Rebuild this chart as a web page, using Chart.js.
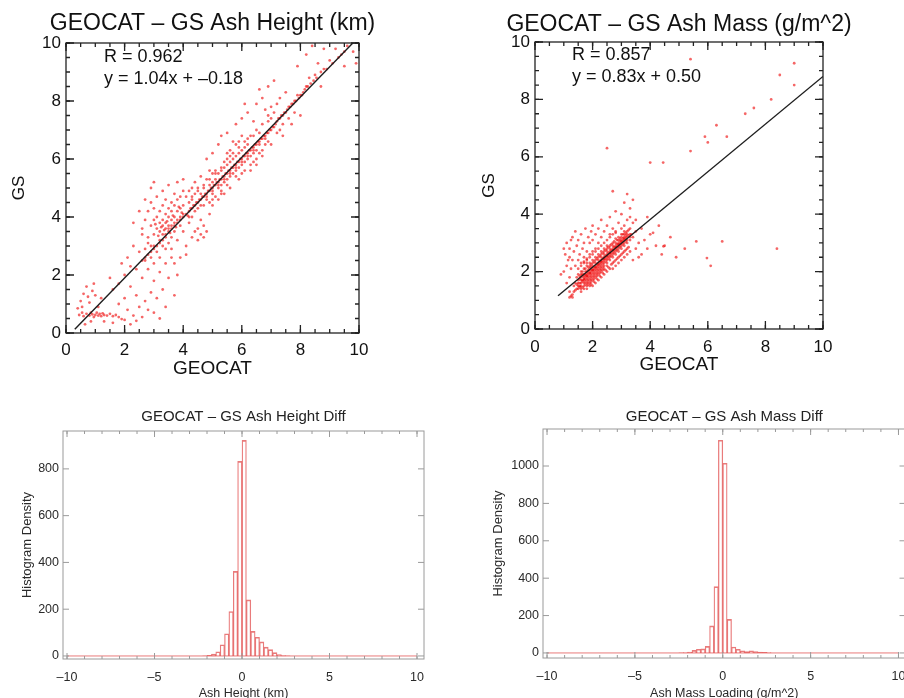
<!DOCTYPE html>
<html lang="en">
<head>
<meta charset="UTF-8">
<title>GEOCAT – GS ash comparison</title>
<script src="https://cdn.jsdelivr.net/npm/chart.js"></script>
<style>
  html, body { margin: 0; padding: 0; background: #fff; }
  body { width: 904px; height: 698px; overflow: hidden; position: relative; }
  .panel { position: absolute; }
</style>
</head>
<body>
<div class="panel" style="left:0;top:0;width:420px;height:385px"><canvas id="heightScatter"></canvas></div>
<div class="panel" style="left:460px;top:0;width:444px;height:385px"><canvas id="massScatter"></canvas></div>
<div class="panel" style="left:0;top:400px;width:450px;height:305px"><canvas id="heightHist"></canvas></div>
<div class="panel" style="left:470px;top:400px;width:450px;height:305px"><canvas id="massHist"></canvas></div>

<script>
// GEOCAT (x) vs GS (y) ash height, km
const heightPts = [
  [0.45,0.62],[0.55,0.7],[0.6,0.58],[0.7,0.66],[0.8,0.6],[0.85,0.7],[0.9,0.64],[0.95,0.55],[0.5,1.1],[0.6,1.35],
  [0.7,1.6],[0.75,1.25],[0.55,0.9],[0.4,0.85],[0.65,0.3],[0.8,1.05],[0.9,1.45],[0.85,0.4],
  [1.0,0.62],[1.05,0.7],[1.1,0.6],[1.15,0.66],[1.2,0.58],[1.25,0.68],[1.3,0.62],[1.4,0.6],[1.5,0.66],[1.6,0.58],
  [1.7,0.62],[1.8,0.55],[1.9,0.48],[2.0,0.45],[1.3,0.4],[1.6,0.35],[2.2,0.3],[2.4,0.42],[1.1,0.9],[1.2,1.2],[0.95,1.7],[1.0,1.3],
  [2.1,0.8],[2.3,0.6],[2.5,0.9],[2.6,0.55],[2.7,1.1],[2.8,0.8],[2.9,1.4],[3.0,0.7],[3.0,1.8],[3.1,1.2],
  [3.2,2.1],[3.3,1.5],[3.4,0.9],[3.4,2.4],[3.5,1.9],[2.4,1.3],[2.2,1.6],[2.6,1.9],[2.8,2.2],[3.6,2.6],
  [3.7,1.3],[3.8,2.0],[2.0,1.2],[1.8,1.0],[3.2,0.5],[2.9,2.6],
  [1.6,1.5],[1.8,1.7],[2.0,2.0],[2.2,2.3],[2.4,2.2],[2.5,2.8],[1.9,2.4],[2.3,3.0],[2.6,3.4],[2.1,2.6],[2.7,2.5],[2.8,3.1],[1.5,1.9],
  [2.6,3.6],[2.7,3.9],[2.8,3.3],[2.8,4.2],[2.9,3.7],[2.9,4.5],[3.0,3.0],[3.0,3.4],[3.0,3.9],[3.0,4.3],
  [3.1,3.6],[3.1,4.0],[3.1,4.7],[3.2,3.2],[3.2,3.5],[3.2,3.8],[3.2,4.2],[3.3,3.4],[3.3,3.7],[3.3,3.9],
  [3.3,4.4],[3.3,4.9],[3.4,3.3],[3.4,3.6],[3.4,3.8],[3.4,4.1],[3.4,4.6],[3.5,3.5],[3.5,3.7],[3.5,4.0],
  [3.5,4.3],[3.5,5.1],[3.6,3.6],[3.6,3.9],[3.6,4.2],[3.6,4.5],[3.7,3.8],[3.7,4.0],[3.7,4.4],[3.7,4.8],
  [3.8,3.9],[3.8,4.2],[3.8,4.6],[3.8,5.2],[3.9,4.0],[3.9,4.3],[3.9,4.7],[4.0,4.1],[4.0,4.4],[4.0,4.9],
  [4.0,5.3],[3.1,2.8],[3.3,3.0],[3.5,3.1],[3.6,3.3],[3.7,3.5],[3.9,3.7],[3.2,2.6],[3.4,2.9],[2.7,2.9],[2.9,3.0],[3.0,2.4],
  [2.5,4.2],[2.3,3.8],[2.7,4.6],[2.9,5.0],[3.0,5.2],
  [3.4,3.4],[3.5,3.6],[3.6,3.7],[3.7,3.7],[3.8,3.8],[3.9,3.9],[4.0,4.0],[3.3,3.2],[3.2,3.1],[3.1,3.0],
  [3.0,2.9],[2.9,2.8],[2.8,2.7],[2.7,2.6],[2.6,2.5],[3.35,3.55],[3.45,3.85],[3.55,3.45],[3.65,4.05],[3.75,3.65],
  [3.85,4.35],[3.95,4.15],[3.25,3.65],[3.15,3.35],[3.05,3.75],
  [3.6,2.9],[3.8,3.2],[3.9,2.6],[4.0,3.5],[4.1,3.0],[4.2,3.8],[4.3,3.3],[4.4,3.5],[4.5,3.2],[4.5,3.6],
  [4.6,3.4],[4.7,3.7],[4.7,3.3],[4.8,3.5],[4.6,3.9],[4.3,4.0],[4.9,4.1],[4.1,2.7],[3.7,2.4],
  [4.1,4.1],[4.2,4.2],[4.2,4.5],[4.3,4.3],[4.3,4.6],[4.4,4.4],[4.4,4.8],[4.5,4.5],[4.5,4.3],[4.5,5.0],
  [4.6,4.6],[4.6,4.8],[4.7,4.7],[4.7,5.1],[4.8,4.8],[4.8,4.6],[4.8,5.3],[4.9,4.9],[4.9,5.1],[5.0,5.0],
  [5.0,5.2],[5.0,4.8],[5.0,5.5],[5.1,5.1],[5.1,5.3],[5.2,5.2],[5.2,5.0],[5.2,5.5],[5.3,5.3],[5.3,5.1],
  [5.3,5.6],[5.4,5.4],[5.4,5.2],[5.4,5.7],[5.5,5.5],[5.5,5.3],[5.5,5.8],[4.2,4.9],[4.4,5.2],[4.6,5.4],
  [4.9,5.6],[4.1,4.7],[4.3,5.0],[5.1,4.7],[5.3,4.9],[5.5,5.1],[4.7,4.4],[4.9,4.5],
  [5.0,4.4],[5.2,4.6],[5.4,4.8],[5.6,5.0],
  [4.15,4.05],[4.25,4.3],[4.35,4.4],[4.45,4.5],[4.55,4.6],[4.65,4.7],[4.75,4.8],[4.85,4.9],[4.95,5.0],[5.05,5.1],
  [5.15,5.2],[5.25,5.3],[5.35,5.4],[5.45,5.5],[5.55,5.6],[5.65,5.7],[5.75,5.8],[5.85,5.9],[5.95,6.0],[6.05,6.1],
  [6.15,6.2],[6.25,6.3],[6.35,6.4],[6.45,6.5],[6.55,6.6],[6.65,6.7],[6.75,6.8],[6.85,6.9],[6.95,7.0],[7.05,7.1],
  [4.2,4.0],[4.4,4.2],[4.6,4.4],[4.8,4.7],[5.0,4.9],[5.2,5.1],[5.4,5.3],[5.6,5.5],[5.8,5.7],[6.0,5.9],
  [6.2,6.1],[6.4,6.3],[6.6,6.5],[6.8,6.7],
  [4.3,4.7],[4.5,4.9],[4.7,5.0],[4.9,5.3],[5.1,5.5],[5.3,5.7],[5.5,6.0],[5.7,6.2],[5.9,6.4],[6.1,6.6],
  [6.3,6.8],[6.5,7.0],[6.7,7.2],[6.9,7.3],
  [5.1,5.6],[5.3,4.8],[5.6,6.1],[5.8,5.4],[6.2,6.5],[6.4,5.9],[5.9,6.6],[6.6,6.2],[5.4,5.9],[5.0,4.6],
  [5.6,5.6],[5.6,5.4],[5.6,5.9],[5.7,5.7],[5.7,5.5],[5.7,6.0],[5.8,5.8],[5.8,5.6],[5.8,6.1],[5.9,5.9],
  [5.9,5.7],[5.9,6.2],[6.0,6.0],[6.0,5.8],[6.0,6.3],[6.1,6.1],[6.1,5.9],[6.1,6.4],[6.2,6.2],[6.2,6.0],
  [6.3,6.3],[6.3,6.1],[6.4,6.4],[6.4,6.2],[6.5,6.5],[6.5,6.3],[6.6,6.6],[6.7,6.7],[6.8,6.8],[6.9,6.9],
  [5.6,6.3],[5.8,6.5],[6.0,6.8],[6.2,6.7],[5.9,5.3],[6.1,5.6],[6.3,5.8],[6.5,6.0],[6.6,6.9],[6.8,6.5],
  [5.7,6.6],[6.4,6.8],[5.5,6.2],[6.0,5.5],[6.7,6.3],[6.9,6.6],
  [5.0,6.2],[5.2,6.5],[5.5,6.9],[5.8,7.2],[6.0,7.4],[6.2,7.6],[6.4,7.3],[6.5,7.9],[6.7,8.1],[6.8,7.7],
  [4.8,6.0],[5.3,6.8],[6.1,7.9],[6.6,8.4],[6.9,8.5],[7.1,8.7],
  [6.3,5.6],[6.7,6.1],[7.0,6.5],[7.4,6.8],[7.7,7.2],[8.0,7.5],[6.5,5.8],
  [7.0,7.0],[7.1,7.1],[7.2,7.3],[7.3,7.4],[7.4,7.5],[7.5,7.6],[7.6,7.8],[7.7,7.9],[7.8,8.0],[7.1,7.6],
  [7.2,7.9],[7.3,8.1],[7.4,7.2],[7.5,8.3],[7.0,7.4],[7.2,6.9],[7.6,7.4],[7.8,7.6],[7.9,8.2],[7.3,7.0],[7.0,7.8],[6.9,7.5],
  [7.15,7.2],[7.25,7.4],[7.35,7.5],[7.45,7.6],[7.55,7.7],[7.65,7.8],[7.75,7.9],[7.85,8.0],[7.95,8.1],[8.05,8.2],
  [8.15,8.4],[8.25,8.5],[8.35,8.6],[8.45,8.7],[8.55,8.8],[8.7,9.0],[8.9,9.1],[9.1,9.3],[9.3,9.5],[9.5,9.7],
  [8.0,8.2],[8.1,8.3],[8.2,8.5],[8.3,8.8],[8.5,8.9],[8.6,9.3],[8.8,9.1],[9.0,9.4],[9.2,9.8],[9.4,9.6],
  [9.6,9.9],[9.8,9.7],[8.2,9.6],[8.4,9.9],[7.9,9.2],[8.8,9.8],[9.5,9.2],[8.7,8.5],[9.9,9.3],
  [10.1,10.3],[10.3,10.6],[10.5,10.9],[10.7,11.1],[10.2,10.8]
];

// GEOCAT (x) vs GS (y) ash mass loading, g/m^2
const massPts = [
  [1.4,1.6],[1.45,1.8],[1.5,1.5],[1.5,1.7],[1.5,1.9],[1.55,1.6],[1.6,1.5],[1.6,1.7],[1.6,1.8],[1.6,2.0],
  [1.65,1.9],[1.7,1.6],[1.7,1.7],[1.7,1.8],[1.7,1.9],[1.7,2.1],[1.75,1.75],[1.75,2.0],[1.8,1.6],[1.8,1.7],
  [1.8,1.8],[1.8,1.9],[1.8,2.0],[1.8,2.2],[1.85,1.85],[1.85,2.05],[1.9,1.7],[1.9,1.8],[1.9,1.9],[1.9,2.0],
  [1.9,2.1],[1.9,2.3],[1.95,1.95],[1.95,2.15],[2.0,1.8],[2.0,1.9],[2.0,2.0],[2.0,2.1],[2.0,2.2],[2.0,2.4],
  [2.05,2.05],[2.05,1.85],[2.1,1.9],[2.1,2.0],[2.1,2.1],[2.1,2.2],[2.1,2.3],[2.1,2.5],[2.15,2.15],[2.15,1.95],
  [2.2,2.0],[2.2,2.1],[2.2,2.2],[2.2,2.3],[2.2,2.4],[2.2,2.6],[2.25,2.25],[2.25,2.05],[2.3,2.1],[2.3,2.2],
  [2.3,2.3],[2.3,2.4],[2.3,2.5],[2.3,2.7],[2.35,2.35],[2.35,2.15],[2.4,2.2],[2.4,2.3],[2.4,2.4],[2.4,2.5],
  [2.4,2.6],[2.4,2.8],[2.45,2.45],[2.5,2.3],[2.5,2.4],[2.5,2.5],[2.5,2.6],[2.5,2.7],[2.5,2.9],[2.55,2.55],
  [2.6,2.4],[2.6,2.5],[2.6,2.6],[2.6,2.7],[2.6,2.8],[2.65,2.65],[2.7,2.5],[2.7,2.6],[2.7,2.7],[2.7,2.8],
  [2.7,2.9],[2.75,2.75],[2.8,2.6],[2.8,2.7],[2.8,2.8],[2.8,2.9],[2.8,3.0],[2.85,2.85],[2.9,2.7],[2.9,2.8],
  [2.9,2.9],[2.9,3.0],[2.9,3.1],[2.95,2.95],[3.0,2.8],[3.0,2.9],[3.0,3.0],[3.0,3.1],[3.0,3.2],[3.05,3.05],
  [3.1,2.9],[3.1,3.0],[3.1,3.1],[3.1,3.2],[3.1,3.3],[3.15,3.15],[3.2,3.0],[3.2,3.1],[3.2,3.2],[3.2,3.3],
  [3.2,3.4],[3.25,3.25],[3.3,3.1],[3.3,3.3],[3.3,3.5],
  [1.55,1.75],[1.65,1.65],[1.65,1.85],[1.75,1.65],[1.75,1.85],[1.85,1.75],[1.85,1.95],[1.95,1.75],[1.95,1.85],[1.95,2.05],
  [2.05,1.95],[2.05,2.15],[2.15,2.05],[2.15,2.25],[2.25,2.15],[2.25,2.35],[2.35,2.25],[2.35,2.45],[2.45,2.35],[2.45,2.55],
  [2.55,2.45],[2.55,2.65],[2.65,2.55],[2.65,2.75],[2.75,2.65],[2.75,2.85],[2.85,2.75],[2.85,2.95],[2.95,2.85],[2.95,3.05],
  [3.05,2.95],[3.05,3.15],[3.15,3.05],[3.15,3.25],[1.6,1.6],[1.7,1.75],[1.8,1.85],[1.9,1.95],[2.0,2.05],[2.1,2.15],
  [2.2,2.25],[2.3,2.35],[2.4,2.45],[2.5,2.55],[2.6,2.65],[2.7,2.75],[2.8,2.85],[2.9,2.95],[3.0,3.05],[3.1,3.15],
  [1.75,1.55],[1.85,1.65],[1.95,1.55],[2.05,1.65],[2.15,1.75],[2.25,1.85],[2.35,1.95],[2.45,2.05],[1.65,1.45],[1.55,1.45],
  [1.7,2.3],[1.8,2.45],[1.9,2.5],[2.0,2.6],[2.1,2.7],[2.2,2.8],[2.3,2.9],[2.4,3.0],[2.5,3.1],[2.6,3.2],
  [2.7,3.3],[2.8,3.35],[2.55,2.15],[2.65,2.25],[2.75,2.35],[2.85,2.45],[2.95,2.55],[3.05,2.65],[3.15,2.75],[3.25,2.85],
  [1.5,2.1],[1.6,2.2],[1.7,2.35],[1.8,2.3],[1.9,2.2],[2.0,2.3],[2.1,2.4],[2.2,2.5],[2.3,2.6],[2.4,2.7],
  [2.5,2.8],[2.6,2.9],[2.7,3.0],[2.8,3.15],[2.9,3.2],[3.0,3.3],[3.1,3.4],[1.6,1.3],[1.7,1.4],[1.8,1.4],
  [1.9,1.5],[2.0,1.5],[2.1,1.6],[2.2,1.7],[2.3,1.8],[2.4,1.9],[2.5,2.0],[2.6,2.1],[2.7,2.3],[2.8,2.4],
  [2.9,2.5],[3.0,2.6],[3.1,2.7],[3.2,2.8],[1.45,1.55],[1.5,1.6],[1.55,1.85],[1.6,1.9],[1.65,1.7],[1.65,2.0],
  [1.75,1.9],[1.75,2.1],[1.85,2.15],[1.95,2.25],[2.05,2.35],[2.15,2.45],[2.25,2.55],[2.35,2.65],[2.45,2.75],[2.55,2.85],
  [2.65,2.95],[2.75,3.05],[2.85,3.1],[2.95,3.15],[3.05,3.3],[3.15,3.35],[3.25,3.45],[3.3,3.2],[3.35,3.3],
  [1.6,1.4],[1.7,1.5],[1.8,1.5],[1.9,1.6],[2.0,1.7],[2.1,1.8],[2.2,1.9],[2.3,2.0],[2.4,2.1],[2.5,2.2],
  [1.85,1.55],[1.95,1.65],[2.05,1.75],[2.15,1.85],[2.25,1.95],[2.35,2.05],
  [1.2,1.1],[1.25,1.15],[1.3,1.2],[1.35,1.3],[1.4,1.35],[1.45,1.4],[1.5,1.4],[1.55,1.5],[1.2,1.3],[1.3,1.1],[1.35,1.5],
  [1.0,2.0],[1.05,2.6],[1.1,2.2],[1.1,3.0],[1.2,2.5],[1.2,2.8],[1.25,2.1],[1.3,3.2],[1.3,2.4],[1.35,2.7],
  [1.4,2.2],[1.4,3.4],[1.45,2.9],[1.5,2.4],[1.5,3.1],[1.55,2.6],[1.6,2.3],[1.6,3.3],[1.65,2.8],[1.7,2.5],
  [1.7,3.0],[1.75,3.5],[1.8,2.4],[1.8,2.7],[1.85,3.2],[1.9,2.6],[1.9,3.0],[1.95,3.4],[2.0,2.7],[2.0,3.1],
  [2.1,2.8],[2.1,3.3],[2.2,3.0],[2.2,3.5],[2.3,3.2],[2.4,3.4],[2.5,3.6],[2.3,3.8],[2.6,3.9],[2.0,3.6],
  [1.2,1.8],[1.1,1.6],[0.9,1.9],[1.0,2.8],[1.15,2.4],[1.25,3.1],
  [2.6,3.3],[2.7,3.5],[2.8,3.4],[2.9,3.7],[3.0,3.5],[3.0,4.0],[3.1,3.6],[3.1,4.4],[3.2,3.8],[3.2,4.7],
  [3.3,3.9],[3.3,4.2],[3.4,3.7],[2.8,4.1],[2.7,4.8],[2.5,6.3],[3.4,4.5],
  [3.4,3.2],[3.5,2.8],[3.5,3.4],[3.6,3.0],[3.7,2.6],[3.7,3.5],[3.8,3.1],[3.9,2.8],[4.0,3.3],[4.1,3.35],
  [4.2,2.9],[4.3,3.6],[4.5,2.9],[4.7,3.2],[4.9,2.5],[3.6,2.5],[3.3,2.7],[3.4,2.4],[3.2,2.6],[3.1,2.5],
  [3.0,2.4],[2.9,2.3],[2.8,2.2],[2.7,2.1],[3.5,3.8],[3.9,3.9],[4.4,2.6],
  [4.0,5.8],[4.45,5.8],[5.4,6.2],[5.9,6.7],[6.3,7.1],[6.66,6.7],[7.6,7.7],[8.2,8.0],[8.5,8.85],[9.0,9.26],
  [9.0,8.5],[8.4,2.8],[6.5,3.05],[5.97,2.47],[5.6,3.05],[5.2,2.8],[6.1,2.2],[4.46,2.88],[5.4,9.4],[7.3,7.5],
  [6.0,6.5],[10.7,10.2]
];

// regression lines, end points
const heightFit = [[0.3, 0.13], [9.79, 10]];
const massFit = [[0.8, 1.16], [10, 8.8]];
const heightStats = ['R = 0.962', 'y = 1.04x + –0.18'];
const massStats = ['R = 0.857', 'y = 0.83x + 0.50'];

// difference histograms, 0.25 wide bins (centres)
const binCenters = [-2.375,-2.125,-1.875,-1.625,-1.375,-1.125,-0.875,-0.625,-0.375,-0.125,
                    0.125,0.375,0.625,0.875,1.125,1.375,1.625,1.875,2.125,2.375,2.625];
const heightDiffCounts = [0,1,3,8,18,48,95,190,362,832,922,240,105,80,60,38,27,14,6,2,1];
const massDiffCounts = [1,2,5,14,20,22,35,145,355,1138,1015,180,32,20,12,8,12,7,4,3,2];
const histSpan = [-10, 10];
const histXTicks = [-10, -5, 0, 5, 10];
const heightHistYTicks = [0, 200, 400, 600, 800];
const massHistYTicks = [0, 200, 400, 600, 800, 1000];

const FONT = '"Liberation Sans", Arial, sans-serif';
Chart.defaults.font.family = FONT;
Chart.defaults.animation = false;

// frame with inward ticks, title and fit notes (IDL look)
const panelDeco = {
  id: 'panelDeco',
  afterDraw(chart, args, o) {
    const { ctx, chartArea: a, scales: { x, y } } = chart;
    ctx.save();
    ctx.strokeStyle = o.frameColor;
    ctx.lineWidth = o.frameWidth;
    ctx.strokeRect(a.left, a.top, a.right - a.left, a.bottom - a.top);
    const run = (scale, step, len, horiz) => {
      if (!step) return;
      for (let v = Math.ceil(scale.min / step - 1e-9) * step; v <= scale.max + 1e-9; v += step) {
        const p = scale.getPixelForValue(v);
        ctx.beginPath();
        if (horiz) {
          ctx.moveTo(p, a.bottom); ctx.lineTo(p, a.bottom - len);
          ctx.moveTo(p, a.top); ctx.lineTo(p, a.top + len);
        } else {
          ctx.moveTo(a.left, p); ctx.lineTo(a.left + len, p);
          ctx.moveTo(a.right, p); ctx.lineTo(a.right - len, p);
        }
        ctx.stroke();
      }
    };
    run(x, o.xMinor, o.minorLen, true);
    run(x, o.xMajor, o.majorLen, true);
    run(y, o.yMinor, o.minorLen, false);
    run(y, o.yMajor, o.majorLen, false);

    ctx.fillStyle = o.color;
    ctx.textBaseline = 'middle';
    ctx.textAlign = 'center';
    ctx.font = o.titleFont;
    ctx.fillText(o.title, (a.left + a.right) / 2, a.top - o.titleGap);
    if (o.notes) {
      ctx.textAlign = 'left';
      ctx.font = o.noteFont;
      o.notes.forEach((t, i) => ctx.fillText(t, a.left + o.noteX, a.top + o.noteY + i * o.noteDy));
    }
    ctx.restore();
  }
};

const dash = v => String(v).replace('-', '–');
const fixedTicks = vals => s => { s.ticks = vals.map(value => ({ value })); };

function makeScatter(id, pts, fit, notes, title, g) {
  new Chart(document.getElementById(id), {
    type: 'scatter',
    data: {
      datasets: [
        {
          data: fit.map(([x, y]) => ({ x, y })),
          showLine: true, borderColor: '#1e1e1e', borderWidth: 1.4,
          pointRadius: 0, order: 0
        },
        {
          data: pts.map(([x, y]) => ({ x, y })),
          pointRadius: 1.4, pointBorderWidth: 0,
          pointBackgroundColor: 'rgba(238,0,0,0.6)', clip: false, order: 1
        }
      ]
    },
    options: {
      responsive: true,
      maintainAspectRatio: false,
      layout: { padding: g.pad },
      scales: {
        x: {
          type: 'linear', min: 0, max: 10,
          afterFit: s => { s.height = g.xH; },
          grid: { display: false, drawTicks: false }, border: { display: false },
          ticks: { stepSize: 2, padding: g.xTickPad, color: '#111', font: { size: 17 } },
          title: { display: true, text: 'GEOCAT', color: '#111', font: { size: 19 }, padding: 0 }
        },
        y: {
          type: 'linear', min: 0, max: 10,
          afterFit: s => { s.width = g.yW; },
          grid: { display: false, drawTicks: false }, border: { display: false },
          ticks: { stepSize: 2, padding: 5, color: '#111', font: { size: 17 } },
          title: { display: true, text: 'GS', color: '#111', font: { size: 17 }, padding: { top: g.yTitlePad, bottom: 0 } }
        }
      },
      plugins: {
        legend: { display: false },
        tooltip: { enabled: false },
        panelDeco: {
          frameColor: '#222', frameWidth: 1.3, color: '#111',
          xMajor: 2, xMinor: 0.5, yMajor: 2, yMinor: 0.5, majorLen: 8, minorLen: 4,
          title, titleFont: '23px ' + FONT, titleGap: g.titleGap,
          notes, noteFont: '18px ' + FONT, noteX: g.noteX, noteY: g.noteY, noteDy: 22
        }
      }
    },
    plugins: [panelDeco]
  });
}

function makeHist(id, counts, yTicks, title, xLabel, g) {
  new Chart(document.getElementById(id), {
    type: 'bar',
    data: {
      datasets: [
        {
          type: 'line',
          data: histSpan.map(x => ({ x, y: 0 })),
          borderColor: 'rgba(228,90,90,0.8)', borderWidth: 1, pointRadius: 0, order: 0
        },
        {
          data: binCenters.map((x, i) => ({ x, y: counts[i] })),
          backgroundColor: 'rgba(255,255,255,0)',
          borderColor: 'rgba(228,90,90,0.8)',
          borderWidth: { top: 1, left: 0.6, right: 0.6, bottom: 0 },
          borderSkipped: false,
          barPercentage: 1, categoryPercentage: 1, order: 1
        }
      ]
    },
    options: {
      responsive: true,
      maintainAspectRatio: false,
      layout: { padding: g.pad },
      scales: {
        x: {
          type: 'linear', min: -10.23, max: 10.4, offset: false,
          afterFit: s => { s.height = g.xH; },
          afterBuildTicks: fixedTicks(histXTicks),
          grid: { display: false, drawTicks: false }, border: { display: false },
          ticks: { padding: 11, color: '#2a2a2a', font: { size: 12.5 }, callback: dash },
          title: { display: true, text: xLabel, color: '#2a2a2a', font: { size: 12.5 }, padding: 0 }
        },
        y: {
          type: 'linear', min: g.yMin, max: g.yMax,
          afterFit: s => { s.width = g.yW; },
          afterBuildTicks: fixedTicks(yTicks),
          grid: { display: false, drawTicks: false }, border: { display: false },
          ticks: { padding: 4, color: '#2a2a2a', font: { size: 12.5 }, callback: v => String(v) },
          title: { display: true, text: 'Histogram Density', color: '#2a2a2a', font: { size: 13 }, padding: { top: g.yTitlePad, bottom: 0 } }
        }
      },
      plugins: {
        legend: { display: false },
        tooltip: { enabled: false },
        panelDeco: {
          frameColor: '#9a9a9a', frameWidth: 1, color: '#222',
          xMajor: 5, xMinor: 1, yMajor: 200, yMinor: 0, majorLen: 6, minorLen: 3,
          title, titleFont: '15px ' + FONT, titleGap: g.titleGap
        }
      }
    },
    plugins: [panelDeco]
  });
}

makeScatter('heightScatter', heightPts, heightFit, heightStats, 'GEOCAT – GS Ash Height (km)',
  { pad: { top: 43, right: 61, bottom: 5, left: 0 }, yW: 66, xH: 47, xTickPad: 7, yTitlePad: 9,
    titleGap: 19, noteX: 38, noteY: 14, noteDy: 22 });

makeScatter('massScatter', massPts, massFit, massStats, 'GEOCAT – GS Ash Mass (g/m^2)',
  { pad: { top: 42, right: 81, bottom: 9, left: 0 }, yW: 75, xH: 47, xTickPad: 8, yTitlePad: 19,
    titleGap: 17, noteX: 37, noteY: 13, noteDy: 22 });

makeHist('heightHist', heightDiffCounts, heightHistYTicks, 'GEOCAT – GS Ash Height Diff', 'Ash Height (km)',
  { pad: { top: 31, right: 26, bottom: 4, left: 0 }, yW: 63, xH: 42, yTitlePad: 20,
    yMin: -13, yMax: 962, titleGap: 14 });

makeHist('massHist', massDiffCounts, massHistYTicks, 'GEOCAT – GS Ash Mass Diff', 'Ash Mass Loading (g/m^2)',
  { pad: { top: 29, right: 14.5, bottom: 4, left: 0 }, yW: 73, xH: 43, yTitlePad: 21,
    yMin: -27, yMax: 1198, titleGap: 12 });
</script>
</body>
</html>
